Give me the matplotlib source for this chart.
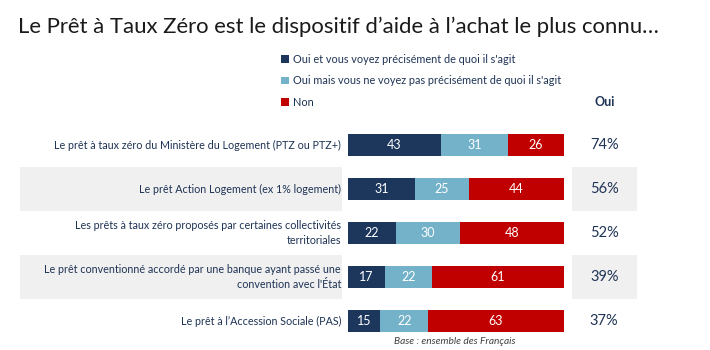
import numpy as np
import matplotlib
matplotlib.use("Agg")
import matplotlib.pyplot as plt
from matplotlib.patches import Rectangle

plt.rcParams['font.family'] = ['Lato', 'DejaVu Sans']

# data
labels = [
    "Le prêt à taux zéro du Ministère du Logement (PTZ ou PTZ+)",
    "Le prêt Action Logement (ex 1% logement)",
    "Les prêts à taux zéro proposés par certaines collectivités\nterritoriales",
    "Le prêt conventionné accordé par une banque ayant passé une\nconvention avec l'État",
    "Le prêt à l’Accession Sociale (PAS)",
]
oui_precis = [43, 31, 22, 17, 15]
oui_vague = [31, 25, 30, 22, 22]
non = [26, 44, 48, 61, 63]
oui_total = ["74%", "56%", "52%", "39%", "37%"]
series_names = [
    "Oui et vous voyez précisément de quoi il s'agit",
    "Oui mais vous ne voyez pas précisément de quoi il s'agit",
    "Non",
]
colors = ["#1c365c", "#74b2c9", "#c00000"]
navy = "#1f3355"

W, H = 710, 350
fig = plt.figure(figsize=(W / 100, H / 100), dpi=100)

# bar axes: x 348..564 px, rows centred 145 + 44*i
ax = fig.add_axes([348 / W, 1 - 343 / H, 216 / W, 220 / H])
ax.set_xlim(0, 100)
ax.set_ylim(4.5, -0.5)
ax.axis("off")

y = np.arange(len(labels))
left = np.zeros(len(labels))
bars = []
for vals, c, name in zip([oui_precis, oui_vague, non], colors, series_names):
    b = ax.barh(y, vals, left=left, height=0.48, color=c, label=name, zorder=3)
    bars.append(b)
    for yi, l, v in zip(y, left, vals):
        ax.text(l + v / 2, yi, str(v), color="white", ha="center", va="center",
                fontsize=9, zorder=4)
    left = left + np.array(vals)

tr = ax.get_yaxis_transform()
for i, (lab, tot) in enumerate(zip(labels, oui_total)):
    if i % 2 == 1:
        ax.add_patch(Rectangle((-1.52, i - 0.49), 1.49, 0.98, transform=tr,
                               color="#f0f0f0", clip_on=False, zorder=1, lw=0))
        ax.add_patch(Rectangle((1.037, i - 0.49), 0.30, 0.98, transform=tr,
                               color="#f0f0f0", clip_on=False, zorder=1, lw=0))
    ax.text(-0.032, i, lab, transform=tr, ha="right", va="center", fontsize=7.75,
            color=navy, linespacing=1.45)
    ax.text(1.186, i, tot, transform=tr, ha="center", va="center", fontsize=10.5,
            color=navy)

fig.text(18 / W, 1 - 27 / H, "Le Prêt à Taux Zéro est le dispositif d’aide à l’achat le plus connu…",
         fontsize=15.9, color="#1a1a1a", va="center", ha="left")
fig.text(605 / W, 1 - 102 / H, "Oui", fontsize=9, fontweight="bold", color=navy,
         ha="center", va="center")
fig.text(455 / W, 1 - 341 / H, "Base : ensemble des Français", fontsize=7.3,
         style="italic", color="#404040", ha="center", va="center")

fig.legend(handles=bars, loc="upper left", bbox_to_anchor=(281 / W, 1 - 54 / H),
           frameon=False, fontsize=7.8, handlelength=0.7, handleheight=0.7,
           handletextpad=0.4, labelspacing=0.95, borderaxespad=0, borderpad=0,
           labelcolor=navy)

fig.savefig("out.png", dpi=100)
